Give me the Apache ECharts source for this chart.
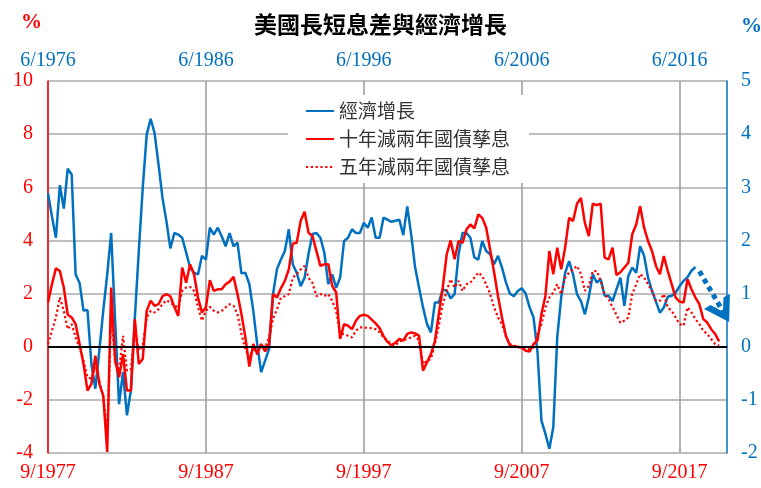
<!DOCTYPE html>
<html>
<head>
<meta charset="utf-8">
<script src="https://cdn.jsdelivr.net/npm/echarts@6/dist/echarts.min.js"></script>
<style>html,body{margin:0;padding:0;background:#fff}#c{width:761px;height:488px}</style>
</head>
<body>
<div id="c"></div>
<script>
// Quarterly points; bottom axis starts 9/1977 (spreads), top axis starts 6/1976 (GDP, leads by 15 months)
const nPoints = 173;
const bottomStart = {year: 1977, month: 9};
const topStart = {year: 1976, month: 6};
const tickEvery = 40; // 10 years

const seriesNames = ['經濟增長', '十年減兩年國債孳息', '五年減兩年國債孳息'];

// 經濟增長 (right axis, %)
const gdp = [2.89,2.45,2.05,3.04,2.6,3.35,3.24,1.36,1.2,0.68,
0.69,-0.33,-0.79,-0.08,0.68,1.36,2.14,0.5,-1.08,-0.48,
-1.29,-0.82,0.55,1.8,2.99,3.99,4.29,4.02,3.43,2.8,
2.36,1.85,2.14,2.11,2.05,1.77,1.49,1.39,1.36,1.71,
1.64,2.24,2.11,2.24,2.08,1.89,2.14,1.89,1.96,1.38,
1.39,1.18,0.68,0.05,-0.48,-0.26,-0.04,0.99,1.46,1.64,
1.8,2.21,1.55,1.39,1.14,1.3,1.75,2.12,2.14,2.05,
1.77,1.18,1.36,1.11,1.3,1.99,2.05,2.21,2.14,2.14,
2.33,2.24,2.43,2.05,2.05,2.43,2.39,2.35,2.37,2.39,
2.1,2.64,2.11,1.49,1.11,0.74,0.43,0.27,0.83,0.83,
1.08,1.05,0.91,0.99,1.74,2.14,2.14,2.05,1.68,1.64,
1.99,1.8,1.74,1.55,1.71,1.49,1.21,1.0,0.95,1.05,
1.1,1.0,0.74,0.55,-0.1,-1.39,-1.64,-1.92,-1.51,0.18,
0.93,1.39,1.61,1.36,0.99,0.86,0.61,0.93,1.36,1.21,
1.27,0.96,0.96,0.86,1.08,1.3,0.77,1.33,1.49,1.39,
1.89,1.71,1.3,1.05,0.85,0.64,0.74,0.94,0.96,1.02,
1.14,1.24,1.31,1.43,1.5];

// 十年減兩年國債孳息 (left axis, %)
const spread10 = [1.66,2.35,2.95,2.85,2.23,1.2,1.1,0.85,0.1,-0.65,
-1.65,-1.4,-0.34,-1.4,-1.84,-3.96,2.23,-0.53,-1.15,-0.28,
-1.65,-1.65,1.04,-0.65,-0.46,1.35,1.73,1.54,1.6,1.9,
1.98,1.9,1.5,1.16,2.98,2.41,3.1,2.73,1.85,1.29,
1.48,2.5,2.1,2.16,2.16,2.35,2.45,2.63,1.98,1.23,
0.35,-0.75,0.1,-0.28,0.1,-0.18,0.1,1.98,1.85,2.2,
2.48,2.91,3.88,3.91,4.73,5.08,4.29,4.16,3.6,3.04,
3.1,3.1,2.29,2.04,0.29,0.85,0.79,0.66,0.98,1.16,
1.2,1.16,1.02,0.88,0.7,0.4,0.18,0.05,0.15,0.29,
0.23,0.48,0.54,0.5,0.41,-0.9,-0.59,-0.28,0.2,1.23,
2.23,3.48,4.0,3.29,3.98,3.91,4.41,4.6,4.45,4.98,
4.85,4.48,3.65,2.8,1.9,1.1,0.4,0.05,0.0,0.0,
-0.03,-0.15,-0.18,0.1,0.23,1.23,1.91,3.6,2.73,3.73,
2.91,3.73,4.85,4.73,5.38,5.6,4.66,4.16,5.38,5.33,
5.38,3.35,3.29,3.73,2.7,2.8,2.98,3.16,4.23,4.6,
5.29,4.48,3.98,3.6,3.04,2.73,3.41,2.85,2.35,1.85,
1.7,1.66,2.54,2.16,1.85,1.6,1.04,0.91,0.66,0.48,
0.2];

// 五年減兩年國債孳息 (left axis, %)
const spread5 = [0.1,0.6,1.1,1.85,1.35,0.66,0.85,0.35,-0.03,-0.53,
-1.15,-1.2,-0.78,-1.28,-1.9,-3.28,1.2,-0.5,-0.9,0.41,
-0.9,-0.84,0.6,-0.15,0.04,1.1,1.35,1.29,1.41,1.6,
1.75,1.66,1.55,1.48,2.1,2.23,2.25,2.1,1.48,0.98,
1.35,1.5,1.35,1.29,1.35,1.48,1.6,1.54,1.23,0.48,
-0.09,-0.4,-0.03,-0.28,0.1,-0.03,0.35,1.05,1.4,1.85,
1.9,1.98,2.6,2.73,2.91,3.04,2.6,2.4,1.9,1.98,
1.91,1.98,1.73,1.35,0.48,0.48,0.41,0.35,0.6,0.73,
0.73,0.7,0.7,0.66,0.54,0.35,0.23,0.1,0.05,0.2,
0.25,0.29,0.35,0.41,0.23,-0.65,-0.53,-0.46,0.1,0.79,
1.6,2.1,2.54,2.23,2.48,2.1,2.35,2.41,2.6,2.79,
2.66,2.35,1.98,1.48,1.1,0.85,0.4,0.1,0.04,0.0,
-0.05,-0.09,-0.09,-0.03,0.48,0.85,1.48,1.85,2.04,2.35,
1.98,2.6,2.79,2.91,3.04,2.73,2.1,2.29,2.85,2.85,
2.48,1.98,1.79,1.5,1.2,0.9,0.98,1.1,1.98,2.35,
2.73,2.6,2.35,2.1,1.73,1.73,1.98,1.48,1.35,1.1,
0.85,0.79,1.48,1.29,1.04,0.85,0.6,0.48,0.29,0.1,
0.04];

// Projection arrow for economic growth: [category index, value]
const forecastFrom = [165, 1.42];
const forecastTo = [171, 0.66];

const BLUE = '#0070C0';
const RED = '#FF0000';
const SERIF = '"Liberation Serif", "Times New Roman", serif';
const CJK = '"Noto Sans CJK TC", "Noto Sans CJK SC", sans-serif';

function makeCats(start) {
  const out = [];
  for (let i = 0; i < nPoints; i++) {
    const m = start.month - 1 + 3 * i;
    out.push((m % 12 + 1) + '/' + (start.year + Math.floor(m / 12)));
  }
  return out;
}
const bottomCats = makeCats(bottomStart);
const topCats = makeCats(topStart);
const tickFn = (idx) => idx % tickEvery === 0;

const chart = echarts.init(document.getElementById('c'), null, {renderer: 'canvas'});
chart.setOption({
  animation: false,
  backgroundColor: '#fff',
  title: [
    {text: '美國長短息差與經濟增長', left: 'center', top: 8,
     textStyle: {fontFamily: CJK, fontSize: 23, fontWeight: 'bold', color: '#000'}},
    {text: '%', left: 21, top: 12, padding: 0,
     textStyle: {fontFamily: SERIF, fontSize: 21, fontWeight: 'bold', color: RED}},
    {text: '%', left: 741, top: 16, padding: 0,
     textStyle: {fontFamily: SERIF, fontSize: 21, fontWeight: 'bold', color: BLUE}}
  ],
  legend: {
    orient: 'vertical', left: 288, top: 95,
    padding: [6, 19, 6, 17], backgroundColor: '#fff',
    itemWidth: 28, itemHeight: 14, itemGap: 8,
    itemStyle: {opacity: 0},
    textStyle: {fontFamily: CJK, fontSize: 19, color: '#333', lineHeight: 20},
    data: seriesNames
  },
  grid: {left: 48, right: 34, top: 81, bottom: 35, containLabel: false},
  xAxis: [
    {type: 'category', position: 'bottom', boundaryGap: false, data: bottomCats,
     axisLine: {show: true, lineStyle: {color: RED, width: 1.5}},
     axisTick: {show: false},
     axisLabel: {interval: tickFn, color: RED, fontFamily: SERIF, fontSize: 20, margin: 10},
     splitLine: {show: true, interval: tickFn, lineStyle: {color: '#9a9a9a', width: 1.5}}},
    {type: 'category', position: 'top', boundaryGap: false, data: topCats,
     axisLine: {show: true, lineStyle: {color: BLUE, width: 1.5}},
     axisTick: {show: false},
     axisLabel: {interval: tickFn, color: BLUE, fontFamily: SERIF, fontSize: 20, margin: 10},
     splitLine: {show: false}}
  ],
  yAxis: [
    {type: 'value', position: 'left', min: -4, max: 10, interval: 2,
     axisLine: {show: true, lineStyle: {color: RED, width: 1.5}},
     axisTick: {show: false},
     axisLabel: {color: RED, fontFamily: SERIF, fontSize: 20, margin: 15},
     splitLine: {show: true, lineStyle: {color: '#bfbfbf', width: 2}}},
    {type: 'value', position: 'right', min: -2, max: 5, interval: 1,
     axisLine: {show: true, lineStyle: {color: BLUE, width: 1.5}},
     axisTick: {show: false},
     axisLabel: {color: BLUE, fontFamily: SERIF, fontSize: 20, margin: 14},
     splitLine: {show: false}}
  ],
  series: [
    {name: seriesNames[0], type: 'line', xAxisIndex: 0, yAxisIndex: 1, data: gdp,
     symbol: 'none', showSymbol: false,
     lineStyle: {color: BLUE, width: 2.5}, itemStyle: {color: BLUE},
     markLine: {silent: true, symbol: ['none', 'path://M10,0 L20,20 L15,20 L10,10 L5,20 L0,20 Z'],
       symbolSize: [30, 24], label: {show: false},
       lineStyle: {color: BLUE, width: 5, type: [5, 4]},
       data: [[{coord: forecastFrom}, {coord: forecastTo}]]}},
    {name: seriesNames[1], type: 'line', xAxisIndex: 0, yAxisIndex: 0, data: spread10,
     symbol: 'none', showSymbol: false,
     lineStyle: {color: RED, width: 2.5}, itemStyle: {color: RED},
     markLine: {silent: true, symbol: ['none', 'none'], label: {show: false},
       lineStyle: {color: '#000', width: 2, type: 'solid'},
       data: [{yAxis: 0}]}},
    {name: seriesNames[2], type: 'line', xAxisIndex: 0, yAxisIndex: 0, data: spread5,
     symbol: 'none', showSymbol: false,
     lineStyle: {color: RED, width: 2.2, type: [2.2, 2.6]}, itemStyle: {color: RED}}
  ]
});
</script>
</body>
</html>
